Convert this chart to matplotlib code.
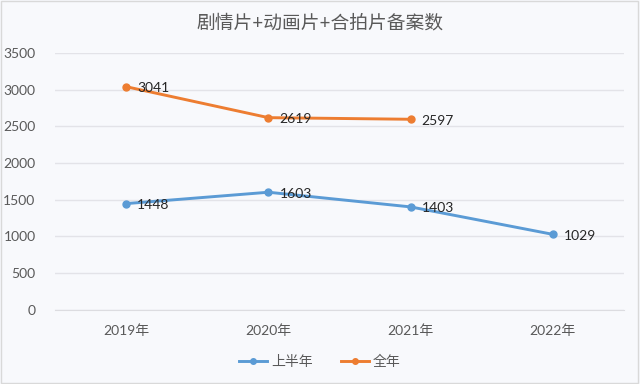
import matplotlib
matplotlib.use("Agg")
import matplotlib.pyplot as plt
from matplotlib.patches import Rectangle

plt.rcParams['font.family'] = ['Lato', 'Noto Sans CJK SC', 'DejaVu Sans']

categories = ['2019年', '2020年', '2021年', '2022年']
half_year = [1448, 1603, 1403, 1029]
full_year = [3041, 2619, 2597]
title = '剧情片+动画片+合拍片备案数'
yticks = [0, 500, 1000, 1500, 2000, 2500, 3000, 3500]

bg = '#f8f9fc'
fig = plt.figure(figsize=(6.4, 3.84), dpi=100, facecolor=bg)
fig.patches.append(Rectangle((0.002, 0.003), 0.995, 0.994, transform=fig.transFigure,
                             fill=False, edgecolor='#d9d9d9', linewidth=1.0))
ax = fig.add_axes([0.086, 0.193, 0.889, 0.669], facecolor=bg)

x = list(range(len(categories)))
blue = '#5b9bd5'
orange = '#ed7d31'
ax.plot(x, half_year, color=blue, lw=2.1, marker='o', ms=5, label='上半年')
ax.plot(x[:len(full_year)], full_year, color=orange, lw=2.1, marker='o', ms=5, label='全年')

for xi, v in zip(x, half_year):
    ax.annotate(str(v), (xi, v), xytext=(8, -1), textcoords='offset points',
                ha='left', va='center', fontsize=10, color='#262626')
for xi, v in zip(x, full_year):
    ax.annotate(str(v), (xi, v), xytext=(8, -1), textcoords='offset points',
                ha='left', va='center', fontsize=10, color='#262626')

ax.set_xlim(-0.5, len(categories) - 0.5)
ax.set_ylim(0, 3500)
ax.set_yticks(yticks)
ax.set_xticks(x)
ax.set_xticklabels(categories)
ax.grid(axis='y', color='#e3e3e8', lw=1)
ax.set_axisbelow(True)
for s in ax.spines.values():
    s.set_visible(False)
ax.spines['bottom'].set_visible(True)
ax.spines['bottom'].set_color('#dcdce0')
ax.tick_params(axis='both', length=0, colors='#595959', labelsize=10)
ax.tick_params(axis='y', pad=14)
ax.tick_params(axis='x', pad=10)

fig.text(0.5, 0.94, title, ha='center', va='center', fontsize=13.5, color='#595959')
fig.legend(loc='center', bbox_to_anchor=(0.5, 0.06), ncol=2, frameon=False,
           fontsize=10, labelcolor='#595959', handlelength=2.0, columnspacing=2.0,
           handletextpad=0.3, markerscale=0.8)

fig.savefig('out.png', dpi=100, facecolor=bg)
